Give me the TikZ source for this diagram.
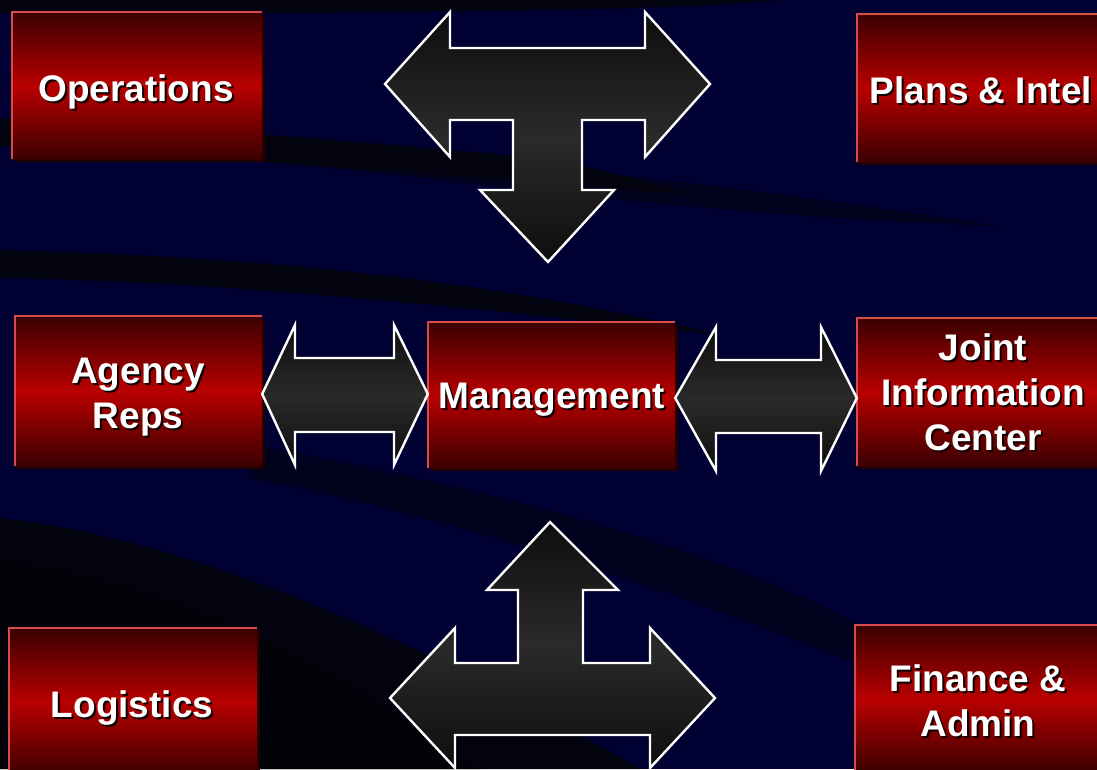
\documentclass[tikz,border=0pt]{standalone}
\usepackage{fontspec}
\setmainfont{Liberation Sans}
\usetikzlibrary{shadows}
\definecolor{navy}{RGB}{0,0,50}
\definecolor{bandc}{RGB}{3,3,16}
\definecolor{bandf}{RGB}{2,2,30}
\definecolor{bandd}{RGB}{2,2,9}
\definecolor{boxdark}{RGB}{58,0,0}
\definecolor{boxmid}{RGB}{185,0,0}
\definecolor{boxedge}{RGB}{215,75,75}
\definecolor{boxshadow}{RGB}{35,0,0}
\definecolor{txtshadow}{RGB}{15,0,0}
\definecolor{arrdark}{RGB}{14,14,14}
\definecolor{arrmid}{RGB}{42,42,42}
\newcommand{\rows}[1]{\begin{tabular}[t]{@{}c@{}}#1\end{tabular}}
\tikzset{
  box/.style={inner sep=0pt, draw=none, top color=boxdark, bottom color=boxdark, middle color=boxmid,
    drop shadow={shadow xshift=3pt, shadow yshift=-3pt, fill=boxshadow, opacity=1}},
  boxedgeline/.style={draw=boxedge, line width=2pt},
  lbl/.style={anchor=base, inner sep=0pt, text=white, font=\fontsize{37}{45}\selectfont\bfseries},
  lblsh/.style={lbl, text=txtshadow},
  barrow/.style={draw=white, line width=2.4pt, line join=miter, top color=arrdark, bottom color=arrdark, middle color=arrmid},
}
\begin{document}
\begin{tikzpicture}[x=1pt, y=-1pt]
\useasboundingbox (0,0) rectangle (1097,769);
\clip (0,0) rectangle (1097,769);
% background
\fill[navy] (0,0) rectangle (1097,769);
\fill[bandc] (0,0) -- (780,0) .. controls (700,10) and (400,14) .. (0,13) -- cycle;
\fill[bandf] (300,150) .. controls (500,160) and (700,180) .. (1000,226) .. controls (700,215) and (500,185) .. (300,165) -- cycle;
\fill[bandc] (0,118) .. controls (150,125) and (350,140) .. (560,160) .. controls (600,170) and (640,180) .. (700,195) .. controls (600,190) and (400,168) .. (0,146) -- cycle;
\fill[bandc] (0,250) .. controls (200,255) and (450,270) .. (720,335) .. controls (500,312) and (250,282) .. (0,278) -- cycle;
\fill[bandf] (250,445) .. controls (450,480) and (700,540) .. (860,625) -- (860,665) .. controls (700,600) and (450,515) .. (250,478) -- cycle;
\fill[bandc] (0,518) .. controls (150,535) and (350,600) .. (640,769) -- (0,769) -- cycle;
\fill[bandd] (0,560) .. controls (150,580) and (300,640) .. (480,769) -- (0,769) -- cycle;

% boxes
\node[box, minimum width=250pt, minimum height=147pt] (ops) at (137,85.5) {};
\node[box, minimum width=248pt, minimum height=148pt] (plans) at (981,88) {};
\node[box, minimum width=247pt, minimum height=150pt] (agency) at (138.5,391) {};
\node[box, minimum width=247pt, minimum height=146pt] (mgmt) at (551.5,395) {};
\node[box, minimum width=248pt, minimum height=148pt] (jic) at (981,392) {};
\node[box, minimum width=248pt, minimum height=148pt] (logi) at (133,702) {};
\node[box, minimum width=248pt, minimum height=148pt] (fin) at (979,699) {};
\foreach \b in {ops,plans,agency,mgmt,jic,logi,fin}
  \draw[boxedgeline] (\b.south west) -- (\b.north west) -- (\b.north east);

% labels
\node[lblsh] (opsS) at (138,103) {Operations};
\node[lbl] (opsT) at (136,101) {Operations};
\node[lblsh] (plansS) at (983,105) {Plans \& Intel};
\node[lbl] (plansT) at (981,103) {Plans \& Intel};
\node[lblsh] (agencyS) at (140,385) {\rows{Agency\\Reps}};
\node[lbl] (agencyT) at (138,383) {\rows{Agency\\Reps}};
\node[lblsh] (mgmtS) at (554,410) {Management};
\node[lbl] (mgmtT) at (552,408) {Management};
\node[lblsh] (jicS) at (985,362) {\rows{Joint\\Information\\Center}};
\node[lbl] (jicT) at (983,360) {\rows{Joint\\Information\\Center}};
\node[lblsh] (logiS) at (134,719) {Logistics};
\node[lbl] (logiT) at (132,717) {Logistics};
\node[lblsh] (finS) at (980,693) {\rows{Finance \&\\Admin}};
\node[lbl] (finT) at (978,691) {\rows{Finance \&\\Admin}};

% block arrows
\path[barrow] (385,84) -- (450,12) -- (450,48) -- (645,48) -- (645,12) -- (710,84) -- (645,157) -- (645,120)
  -- (582,120) -- (582,190) -- (614,190) -- (548,262) -- (480,190) -- (513,190) -- (513,120) -- (450,120) -- (450,157) -- cycle;
\path[barrow] (550,522) -- (618,590) -- (583,590) -- (583,663) -- (650,663) -- (650,628) -- (715,698) -- (650,768)
  -- (650,735) -- (455,735) -- (455,768) -- (390,698) -- (455,628) -- (455,663) -- (518,663) -- (518,590) -- (487,590) -- cycle;
\path[barrow] (agency.east |- 0,394) -- (295,325) -- (295,358) -- (394,358) -- (394,325) -- (mgmt.west |- 0,394)
  -- (394,465) -- (394,432) -- (295,432) -- (295,465) -- cycle;
\path[barrow] (mgmt.east |- 0,398) -- (716,327) -- (716,360) -- (821,360) -- (821,327) -- (jic.west |- 0,398)
  -- (821,471) -- (821,433) -- (716,433) -- (716,471) -- cycle;
\end{tikzpicture}
\end{document}
